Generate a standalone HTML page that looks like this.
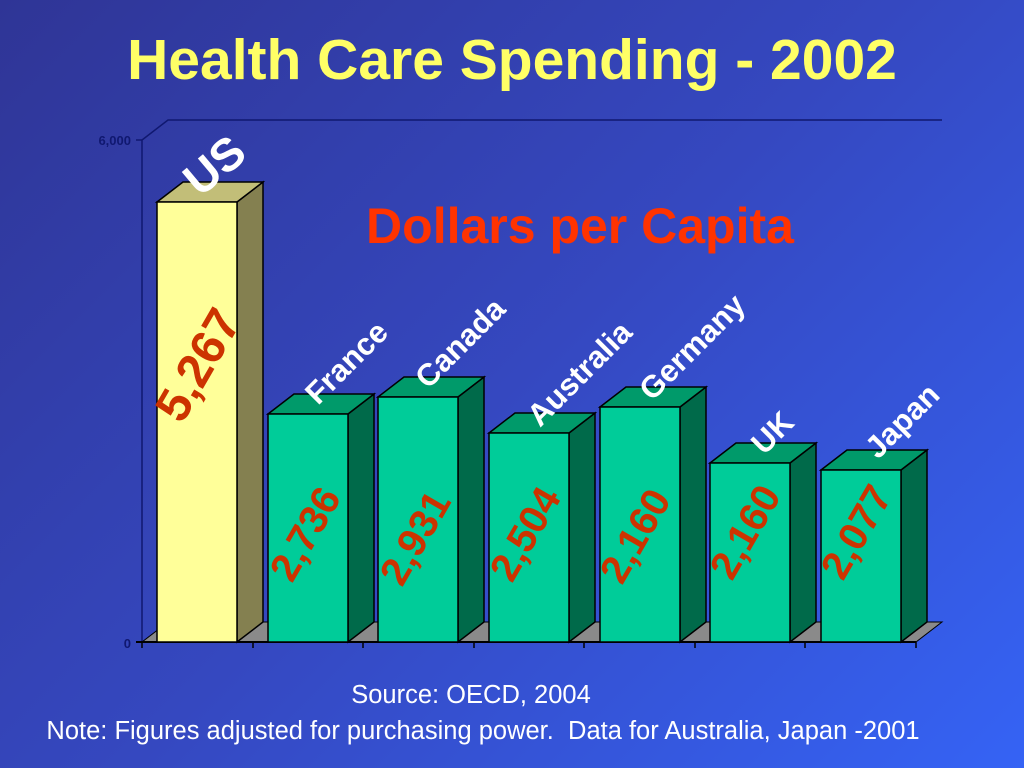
<!DOCTYPE html>
<html><head><meta charset="utf-8"><style>
html,body{margin:0;padding:0;width:1024px;height:768px;overflow:hidden}
body{background:linear-gradient(135deg,#2f3596 0%,#3548c0 50%,#3563f5 100%);font-family:"Liberation Sans",sans-serif}
</style></head><body>
<svg width="1024" height="768" viewBox="0 0 1024 768" xmlns="http://www.w3.org/2000/svg" font-family="Liberation Sans, sans-serif">
<text x="512" y="79" text-anchor="middle" font-size="57" font-weight="bold" fill="#ffff66">Health Care Spending - 2002</text>
<polyline points="142,642 142,140 168,120 942,120" fill="none" stroke="#101870" stroke-width="1.5"/>
<line x1="136" y1="140" x2="142" y2="140" stroke="#101870" stroke-width="1.5"/>
<text x="131" y="145" text-anchor="end" font-size="13" font-weight="bold" fill="#101870">6,000</text>
<text x="131" y="648" text-anchor="end" font-size="13" font-weight="bold" fill="#101870">0</text>
<polygon points="142,642 168,622 942,622 916,642" fill="#8a8a8a" stroke="#000" stroke-width="1"/>
<line x1="136" y1="642" x2="916" y2="642" stroke="#000" stroke-width="2"/>
<g stroke="#000" stroke-width="1.5">
<line x1="142" y1="642" x2="142" y2="648"/><line x1="253" y1="642" x2="253" y2="648"/><line x1="363" y1="642" x2="363" y2="648"/><line x1="474" y1="642" x2="474" y2="648"/><line x1="584" y1="642" x2="584" y2="648"/><line x1="695" y1="642" x2="695" y2="648"/><line x1="805" y1="642" x2="805" y2="648"/><line x1="916" y1="642" x2="916" y2="648"/>
</g>
<g stroke="#000" stroke-width="1.5">
<polygon points="237,202 263,182 263,622 237,642" fill="#848050"/>
<polygon points="157,202 183,182 263,182 237,202" fill="#c2be78"/>
<rect x="157" y="202" width="80" height="440" fill="#ffff99"/>
<polygon points="348,414 374,394 374,622 348,642" fill="#006a4a"/><polygon points="268,414 294,394 374,394 348,414" fill="#009a6a"/><rect x="268" y="414" width="80" height="228" fill="#00cc99"/>
<polygon points="458,397 484,377 484,622 458,642" fill="#006a4a"/><polygon points="378,397 404,377 484,377 458,397" fill="#009a6a"/><rect x="378" y="397" width="80" height="245" fill="#00cc99"/>
<polygon points="569,433 595,413 595,622 569,642" fill="#006a4a"/><polygon points="489,433 515,413 595,413 569,433" fill="#009a6a"/><rect x="489" y="433" width="80" height="209" fill="#00cc99"/>
<polygon points="680,407 706,387 706,622 680,642" fill="#006a4a"/><polygon points="600,407 626,387 706,387 680,407" fill="#009a6a"/><rect x="600" y="407" width="80" height="235" fill="#00cc99"/>
<polygon points="790,463 816,443 816,622 790,642" fill="#006a4a"/><polygon points="710,463 736,443 816,443 790,463" fill="#009a6a"/><rect x="710" y="463" width="80" height="179" fill="#00cc99"/>
<polygon points="901,470 927,450 927,622 901,642" fill="#006a4a"/><polygon points="821,470 847,450 927,450 901,470" fill="#009a6a"/><rect x="821" y="470" width="80" height="172" fill="#00cc99"/>
</g>
<text x="580" y="243" text-anchor="middle" font-size="50" font-weight="bold" fill="#ff3300">Dollars per Capita</text>
<g font-weight="bold" fill="#ffffff">
<text transform="translate(200,198) rotate(-40)" font-size="46">US</text>
<text transform="translate(318,406) rotate(-45)" font-size="31">France</text>
<text transform="translate(428,390) rotate(-45)" font-size="31">Canada</text>
<text transform="translate(540,428) rotate(-45)" font-size="31">Australia</text>
<text transform="translate(652,402) rotate(-45)" font-size="31">Germany</text>
<text transform="translate(764,456) rotate(-45)" font-size="31">UK</text>
<text transform="translate(878,460) rotate(-45)" font-size="31">Japan</text>
</g>
<g font-weight="bold" fill="#cc3300">
<text transform="translate(182,425) rotate(-60)" font-size="48">5,267</text>
<text transform="translate(292,584) rotate(-60)" font-size="40">2,736</text>
<text transform="translate(402,588) rotate(-60)" font-size="40">2,931</text>
<text transform="translate(512,584) rotate(-60)" font-size="40">2,504</text>
<text transform="translate(622,586) rotate(-60)" font-size="40">2,160</text>
<text transform="translate(732,582) rotate(-60)" font-size="40">2,160</text>
<text transform="translate(843,582) rotate(-60)" font-size="40">2,077</text>
</g>
<text x="471" y="703" text-anchor="middle" font-size="25.5" fill="#ffffff">Source: OECD, 2004</text>
<text x="483" y="739" text-anchor="middle" font-size="25.5" fill="#ffffff" xml:space="preserve">Note: Figures adjusted for purchasing power.  Data for Australia, Japan -2001</text>
</svg>
</body></html>
